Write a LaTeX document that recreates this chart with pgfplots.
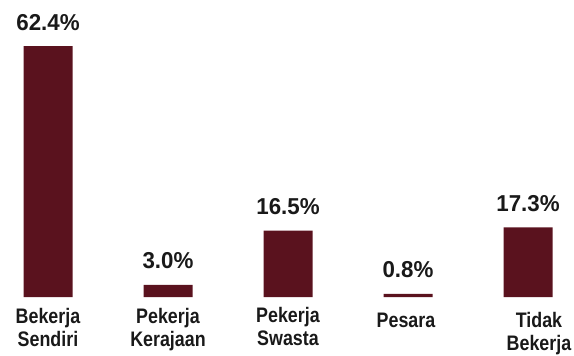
\documentclass[border=0pt]{standalone}
\usepackage{fontspec}
\setmainfont{Liberation Sans}[FakeStretch=0.85]
\newfontfamily\valfont{Liberation Sans}[FakeStretch=0.97]
\usepackage{pgfplots}
\pgfplotsset{compat=1.18}
\definecolor{barred}{RGB}{90,18,30}
\definecolor{txt}{RGB}{25,25,25}
\begin{document}
\begin{tikzpicture}
\begin{axis}[
  scale only axis,
  width=574pt, height=353pt,
  xmin=0, xmax=574,
  ymin=-13.93, ymax=73.88,
  axis lines=none,
  clip=false,
  ybar, bar width=49pt,
  /pgf/number format/assume math mode=true,
  nodes near coords={\pgfmathprintnumber[fixed,fixed zerofill,precision=1,assume math mode=true]{\pgfplotspointmeta}\%},
  nodes near coords style={anchor=base, yshift=16pt, font=\valfont\fontsize{23}{25}\selectfont\bfseries, text=txt, inner sep=0pt},
]
\path (rel axis cs:0,0) rectangle (rel axis cs:1,1);
\addplot[fill=barred, draw=none] coordinates {(48,62.4) (168,3.0) (288,16.5) (408,0.8) (528,17.3)};
\begin{scope}[every node/.style={anchor=north, align=center, inner sep=0pt, text=txt, font=\fontsize{21}{23.5}\selectfont\bfseries}]
\node at (axis cs:48,-2.74) {Bekerja\\Sendiri};
\node at (axis cs:168,-2.74) {Pekerja\\Kerajaan};
\node at (axis cs:288,-2.49) {Pekerja\\Swasta};
\node at (axis cs:406,-3.98) {Pesara};
\node at (axis cs:539,-3.73) {Tidak\\Bekerja};
\end{scope}
\end{axis}
\end{tikzpicture}
\end{document}
